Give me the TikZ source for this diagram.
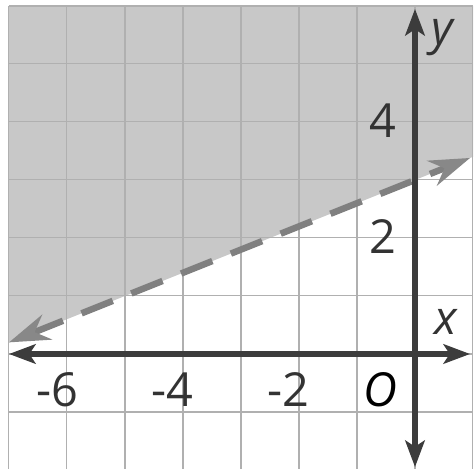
\documentclass[tikz,border=0pt]{standalone}
\usepackage{fontspec}
\setmainfont{Open Sans}
\usetikzlibrary{arrows.meta}
\definecolor{shadec}{HTML}{C8C8C8}
\definecolor{gridc}{HTML}{B0B0B0}
\definecolor{axisc}{HTML}{3C3C3C}
\definecolor{dashc}{HTML}{808080}
\definecolor{dashtip}{HTML}{888888}
\definecolor{labelc}{HTML}{333333}
\begin{document}
\begin{tikzpicture}[
  lab/.style={text=labelc, font=\fontsize{23}{23}\selectfont, anchor=base, inner sep=0pt},
  axisline/.style={line width=2.9pt, draw=axisc},
  boundary/.style={line width=3.2pt, draw=dashc, dash pattern=on 16.5pt off 9.8pt},
  gridline/.style={draw=gridc, line width=0.5pt}
]
\useasboundingbox (-7.155,-1.966) rectangle (1.017,6.103);
\begin{scope}
  \clip (-7,-2) rectangle (1,6);
  \fill[shadec] (-7,0.2) -- (1,3.4) -- (1,6) -- (-7,6) -- cycle;
\end{scope}
\draw[gridline] (-7,-2) grid (1,6);
\coordinate (bl) at (-7,0.2);
\coordinate (br) at (0.95,3.38);
\coordinate (xl) at (-7,0);
\coordinate (xr) at (0.95,0);
\coordinate (yb) at (0,-1.95);
\coordinate (yt) at (0,5.95);
\draw[boundary, {Stealth[length=20pt,width=13pt,inset=6.5pt,color=dashtip]}-{Stealth[length=20pt,width=13pt,inset=6.5pt,color=dashtip]}] (bl) -- (br);
\draw[axisline, {Stealth[length=13pt,width=9.5pt,inset=3pt]}-{Stealth[length=13pt,width=9.5pt,inset=3pt]}] (xl) -- (xr);
\draw[axisline, {Stealth[length=13pt,width=9.5pt,inset=3pt]}-{Stealth[length=13pt,width=9.5pt,inset=3pt]}] (yb) -- (yt);
\node[lab] (m6) at (-6.17,-0.91) {-6};
\node[lab] (m4) at (-4.19,-0.91) {-4};
\node[lab] (m2) at (-2.19,-0.91) {-2};
\node[lab, text=black] (o) at (-0.59,-0.91) {\itshape O};
\node[lab] (p4) at (-0.55,3.74) {4};
\node[lab] (p2) at (-0.55,1.74) {2};
\node[lab] (xlab) at (0.53,0.33) {\itshape x};
\node[lab] (ylab) at (0.47,5.33) {\itshape y};
\end{tikzpicture}
\end{document}
